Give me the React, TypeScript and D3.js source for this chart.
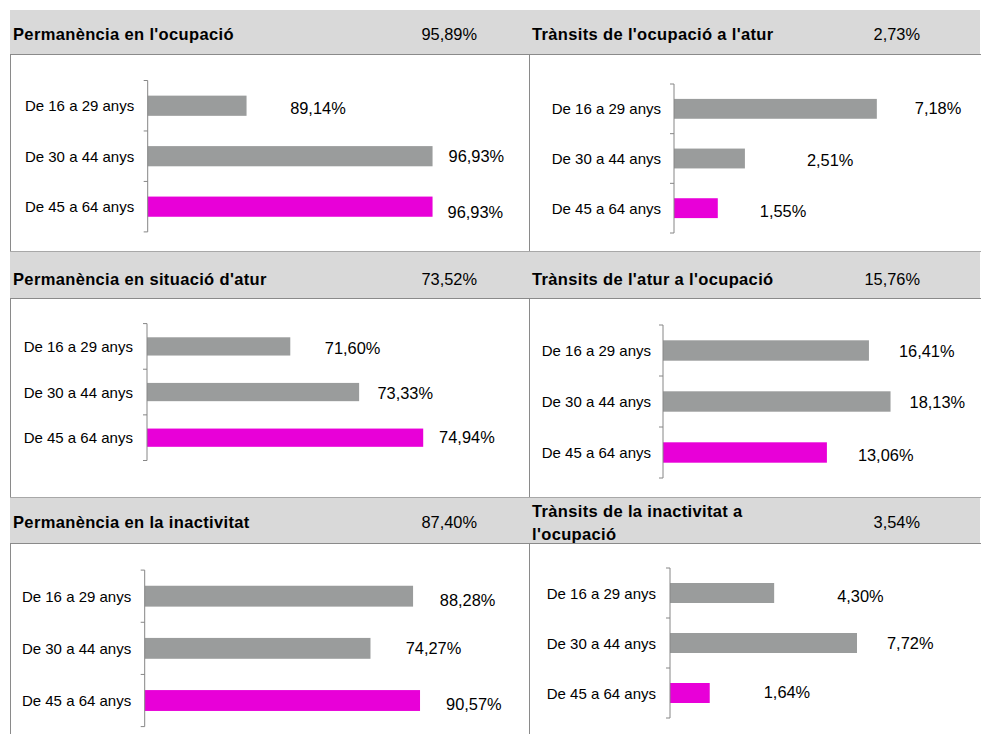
import React from "react";
import * as d3 from "d3";

// ---- data ----
const categories = ["De 16 a 29 anys", "De 30 a 44 anys", "De 45 a 64 anys"];
const panelTitles = [
  ["Permanència en l'ocupació"],
  ["Trànsits de l'ocupació a l'atur"],
  ["Permanència en situació d'atur"],
  ["Trànsits de l'atur a l'ocupació"],
  ["Permanència en la inactivitat"],
  ["Trànsits de la inactivitat a", "l'ocupació"],
];
const panelTotals = ["95,89%", "2,73%", "73,52%", "15,76%", "87,40%", "3,54%"];
const permOcupacio = [89.14, 96.93, 96.93];
const ocupacioAtur = [7.18, 2.51, 1.55];
const permAtur = [71.6, 73.33, 74.94];
const aturOcupacio = [16.41, 18.13, 13.06];
const permInactivitat = [88.28, 74.27, 90.57];
const inactivitatOcupacio = [4.3, 7.72, 1.64];
const panelValues = [permOcupacio, ocupacioAtur, permAtur, aturOcupacio, permInactivitat, inactivitatOcupacio];
const axisDomains: [number, number][] = [[85, 98], [0, 8], [68, 76], [0, 20], [0, 100], [0, 9]];

// ---- layout / style ----
const W = 981, H = 734;
const FONT = "'Liberation Sans', Arial, sans-serif";
const GRAY = "#9a9c9c";
const MAGENTA = "#e800d8";
const headerRows = [[10, 54], [251, 298], [497, 543]];
const headerTextY = [33.5, 278.5, 522];
const boxRows = [[54, 251], [298, 497], [543, 740]];
const layouts = [
  { ax: 147.7, top: 80.5, bottom: 231.9, end: 458.1, catR: 134.2, dx: [43.6, 16, 15], dy: [2, 0, 5.4] },
  { ax: 674, top: 84, bottom: 233, end: 900, catR: 661, dx: [38, 62, 42], dy: [-1, 1, 3] },
  { ax: 147, top: 323.6, bottom: 460.5, end: 465.4, catR: 132.9, dx: [34.5, 18.3, 15.9], dy: [1.5, 0.8, -0.7] },
  { ax: 663, top: 325, bottom: 478, end: 914, catR: 651, dx: [30, 19, 31], dy: [0, 0, 2] },
  { ax: 144.7, top: 570.1, bottom: 726.6, end: 448.7, catR: 131.2, dx: [26.7, 35.2, 26], dy: [3.4, -0.3, 3.3] },
  { ax: 670, top: 568, bottom: 718, end: 888, catR: 656, dx: [63, 30, 54], dy: [3, 0, -1] },
];

const fmt = (v: number) => d3.format(".2f")(v).replace(".", ",") + "%";

function Panel({ i }: { i: number }) {
  const L = layouts[i];
  const vals = panelValues[i];
  const x = d3.scaleLinear().domain(axisDomains[i]).range([L.ax, L.end]);
  const y = d3.scaleBand<string>().domain(categories).range([L.top, L.bottom]).paddingInner(0.6).paddingOuter(0.3);
  const step = y.step();
  const ticks = d3.range(categories.length + 1).map((k) => L.top + k * step);
  const x0 = x(axisDomains[i][0]);
  return (
    <g>
      {categories.map((c, k) => {
        const v = vals[k];
        const cy = (y(c) as number) + y.bandwidth() / 2;
        return (
          <g key={c}>
            <rect x={x0} y={y(c)} width={x(v) - x0} height={y.bandwidth()} fill={k === 2 ? MAGENTA : GRAY} />
            <text x={L.catR} y={cy} textAnchor="end" dominantBaseline="central" fontSize={15} fill="#000">{c}</text>
            <text x={x(v) + L.dx[k]} y={cy + L.dy[k]} dominantBaseline="central" fontSize={16.4} fill="#000">{fmt(v)}</text>
          </g>
        );
      })}
      <line x1={L.ax} x2={L.ax} y1={L.top} y2={L.bottom} stroke="#868686" strokeWidth={1} />
      {ticks.map((t, k) => (
        <line key={k} x1={L.ax - 4} x2={L.ax} y1={t} y2={t} stroke="#868686" strokeWidth={1} />
      ))}
    </g>
  );
}

export default function App() {
  return (
    <div style={{ position: "absolute", left: 0, top: 0 }}>
      <svg width={W} height={H} style={{ display: "block", fontFamily: FONT }}>
        <rect x={0} y={0} width={W} height={H} fill="#fff" />
        {boxRows.map((r, k) => (
          <g key={k}>
            <rect x={10.5} y={r[0] + 0.5} width={990} height={r[1] - r[0]} fill="#fff" stroke="#8a8a8a" />
            <line x1={529.5} x2={529.5} y1={r[0]} y2={r[1]} stroke="#8a8a8a" />
          </g>
        ))}
        {headerRows.map((r, k) => (
          <g key={k}>
            <rect x={10} y={r[0]} width={970} height={r[1] - r[0]} fill="#d9d9d9" />
            <line x1={10} x2={981} y1={r[1] + 0.5} y2={r[1] + 0.5} stroke="#8a8a8a" />
            {k > 0 && <line x1={10} x2={981} y1={r[0] + 0.5} y2={r[0] + 0.5} stroke="#a8a8a8" />}
          </g>
        ))}
        {panelTitles.map((lines, i) => {
          const row = Math.floor(i / 2);
          const col = i % 2;
          const cy = headerTextY[row];
          const tx = col === 0 ? 13 : 532;
          const vx = col === 0 ? 477 : 920;
          return (
            <g key={i}>
              {lines.map((ln, j) => (
                <text key={j} x={tx} y={cy + (j - (lines.length - 1) / 2) * 23} dominantBaseline="central"
                  fontSize={16.5} fontWeight="bold" letterSpacing={0.35} fill="#000">{ln}</text>
              ))}
              <text x={vx} y={cy} textAnchor="end" dominantBaseline="central" fontSize={16.4} fill="#000">{panelTotals[i]}</text>
            </g>
          );
        })}
        {layouts.map((_, i) => <Panel key={i} i={i} />)}
      </svg>
    </div>
  );
}
